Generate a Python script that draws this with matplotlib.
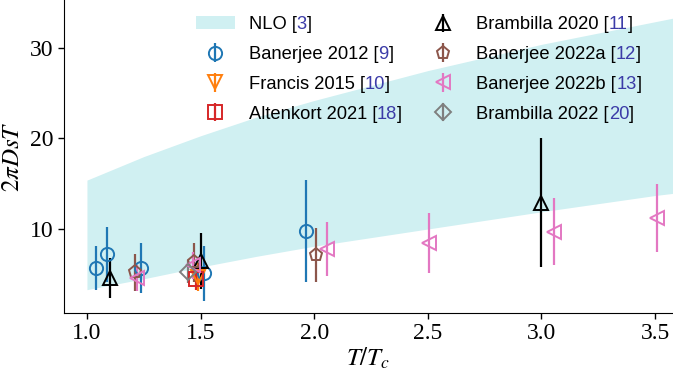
import matplotlib
matplotlib.use("Agg")
import matplotlib.pyplot as plt
import numpy as np

plt.rcParams['mathtext.fontset'] = 'stix'
plt.rcParams['font.family'] = ['Liberation Serif', 'DejaVu Serif']

# NLO band
nlo_T = [1.0, 1.25, 1.5, 1.75, 2.0, 2.5, 3.0, 3.5, 3.6]
nlo_lo = [3.3, 4.5, 5.8, 7.0, 8.1, 10.0, 11.9, 13.7, 14.0]
nlo_hi = [15.4, 18.0, 20.3, 22.4, 24.2, 27.5, 30.4, 32.9, 33.4]

# data sets: T, value, error
ban2012_T = [1.04, 1.09, 1.24, 1.515, 1.965]
ban2012_v = [5.7, 7.2, 5.7, 5.1, 9.8]
ban2012_e = [2.45, 3.0, 2.8, 3.0, 5.65]

fra2015_T = [1.49]
fra2015_v = [4.7]
fra2015_e = [1.5]

alt2021_T = [1.48]
alt2021_v = [4.5]
alt2021_e = [1.2]

bra2020_T = [1.10, 1.50, 3.00]
bra2020_v = [4.6, 6.5, 12.9]
bra2020_e = [2.2, 3.1, 7.1]

ban2022a_T = [1.21, 1.47, 2.01]
ban2022a_v = [5.2, 6.3, 7.1]
ban2022a_e = [2.0, 2.2, 3.0]

ban2022b_T = [1.22, 1.465, 2.056, 2.507, 3.057, 3.51]
ban2022b_v = [4.6, 6.0, 7.8, 8.45, 9.7, 11.2]
ban2022b_e = [1.4, 1.5, 3.0, 3.35, 3.7, 3.75]

bra2022_T = [1.445]
bra2022_v = [5.3]
bra2022_e = [1.3]

names = ["NLO", "Banerjee 2012", "Francis 2015", "Altenkort 2021",
         "Brambilla 2020", "Banerjee 2022a", "Banerjee 2022b", "Brambilla 2022"]
refs = ["3", "9", "10", "18", "11", "12", "13", "20"]

fig = plt.figure(figsize=(6.73, 3.80), dpi=100)
ax = fig.add_axes([64/673, 67/380, 609/673, 313/380])

band = ax.fill_between(nlo_T, nlo_lo, nlo_hi, color='#d0f0f2', lw=0)

datasets = [
    (ban2012_T, ban2012_v, ban2012_e, 'o', 'tab:blue'),
    (fra2015_T, fra2015_v, fra2015_e, 'v', 'tab:orange'),
    (alt2021_T, alt2021_v, alt2021_e, 's', 'tab:red'),
    (bra2020_T, bra2020_v, bra2020_e, '^', 'black'),
    (ban2022a_T, ban2022a_v, ban2022a_e, 'p', 'tab:brown'),
    (ban2022b_T, ban2022b_v, ban2022b_e, '<', 'tab:pink'),
    (bra2022_T, bra2022_v, bra2022_e, 'D', 'tab:gray'),
]
handles = [band]
for T, v, e, m, c in datasets:
    h = ax.errorbar(T, v, yerr=e, fmt=m, color=c, mfc='none', mec=c,
                    ms=9.5 if m != 'D' else 8, mew=1.4, elinewidth=1.6, capsize=0)
    handles.append(h)

FS = 13.2
labels = [f"{n} [" for n in names]
leg = ax.legend(handles, labels, loc='upper left', bbox_to_anchor=(0.205, 0.972),
                ncol=2, frameon=False, prop={'family': 'Liberation Sans', 'size': FS},
                handlelength=2.1, handletextpad=0.76, columnspacing=2.5,
                labelspacing=0.7, borderaxespad=0.0)

ax.set_xlim(0.899, 3.579)
ax.set_ylim(0.72, 35.3)
ax.set_xticks([1.0, 1.5, 2.0, 2.5, 3.0, 3.5])
ax.set_yticks([10, 20, 30])
ax.tick_params(labelsize=17, length=4, width=1, direction='out')
for s in ['top', 'right']:
    ax.spines[s].set_visible(False)
ax.set_xlabel(r"$T/T_c$", fontsize=18, labelpad=1)
ax.set_ylabel(r"$2\pi DsT$", fontsize=18, labelpad=4)

fig.canvas.draw()

# coloured reference numbers after each legend label
for t, r in zip(leg.get_texts(), refs):
    kw = dict(va='bottom', ha='left', fontsize=FS, family='Liberation Sans',
              annotation_clip=False, zorder=10)
    a2 = ax.annotate(r, xy=(1, 0), xycoords=t, color='#3c3ca8', **kw)
    ax.annotate("]", xy=(1, 0), xycoords=a2, color='black', **kw)

fig.savefig("out.png", dpi=100)
